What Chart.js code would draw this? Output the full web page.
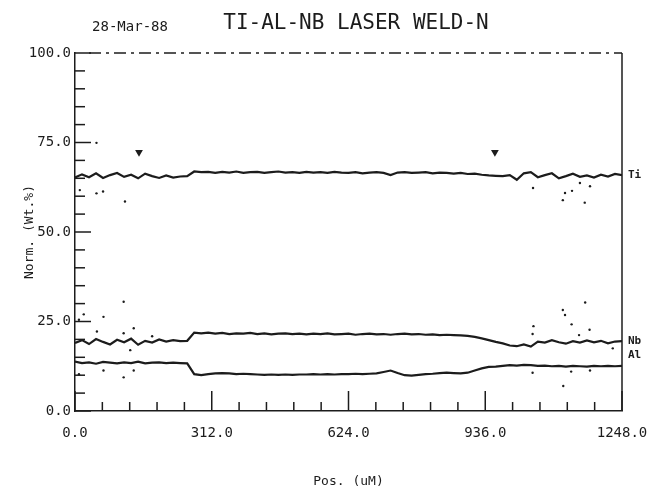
<!DOCTYPE html>
<html>
<head>
<meta charset="utf-8">
<script src="https://cdn.jsdelivr.net/npm/chart.js@4.4.1/dist/chart.umd.min.js"></script>
<style>
    html, body { margin: 0; background: #ffffff; }
    #caixa { width: 647px; height: 491px; }
</style>
</head>
<body>
<div id="caixa"><canvas id="perfil"></canvas></div>
<script>
// posicoes ao longo da linha (uM)
const posicoes = [0, 16, 32, 48, 64, 80, 96, 112, 128, 144, 160, 176, 192, 208, 224, 240, 256, 272, 288, 304,
    320, 336, 352, 368, 384, 400, 416, 432, 448, 464, 480, 496, 512, 528, 544, 560, 576, 592, 608, 624,
    640, 656, 672, 688, 704, 720, 736, 752, 768, 784, 800, 816, 832, 848, 864, 880, 896, 912, 928, 944,
    960, 976, 992, 1008, 1024, 1040, 1056, 1072, 1088, 1104, 1120, 1136, 1152, 1168, 1184, 1200, 1216, 1232, 1248];

const ti = [65.2, 66.1, 65.3, 66.4, 65.1, 65.9, 66.5, 65.4, 66.0, 65.0,
    66.3, 65.6, 65.1, 65.8, 65.2, 65.5, 65.6, 66.9, 66.7, 66.8,
    66.5, 66.8, 66.6, 66.9, 66.5, 66.7, 66.8, 66.5, 66.7, 66.9,
    66.6, 66.7, 66.5, 66.8, 66.6, 66.7, 66.5, 66.8, 66.6, 66.5,
    66.7, 66.4, 66.6, 66.7, 66.5, 65.9, 66.6, 66.7, 66.5, 66.6,
    66.7, 66.4, 66.6, 66.5, 66.3, 66.5, 66.2, 66.3, 66.0, 65.8,
    65.7, 65.6, 65.9, 64.6, 66.4, 66.7, 65.3, 65.9, 66.4, 65.0,
    65.6, 66.3, 65.4, 65.8, 65.2, 66.0, 65.5, 66.2, 65.9];

const nb = [19.0, 19.8, 18.7, 20.1, 19.3, 18.6, 19.9, 19.2, 20.2, 18.5,
    19.6, 19.1, 20.0, 19.4, 19.8, 19.5, 19.6, 21.9, 21.7, 21.9,
    21.6, 21.8, 21.5, 21.7, 21.6, 21.8, 21.5, 21.7, 21.4, 21.6,
    21.7, 21.5, 21.6, 21.4, 21.6, 21.5, 21.7, 21.4, 21.5, 21.6,
    21.3, 21.5, 21.6, 21.4, 21.5, 21.3, 21.5, 21.6, 21.4, 21.5,
    21.3, 21.4, 21.2, 21.3, 21.2, 21.1, 21.0, 20.7, 20.3, 19.8,
    19.3, 18.9, 18.3, 18.1, 18.6, 18.0, 19.4, 19.1, 19.8, 19.2,
    18.8, 19.5, 19.1, 19.7, 19.2, 19.6, 18.9, 19.4, 19.5];

const al = [13.8, 13.4, 13.6, 13.2, 13.7, 13.5, 13.3, 13.6, 13.4, 13.8,
    13.3, 13.5, 13.6, 13.4, 13.5, 13.4, 13.3, 10.3, 10.0, 10.3,
    10.5, 10.6, 10.5, 10.3, 10.4, 10.3, 10.2, 10.1, 10.2, 10.1,
    10.2, 10.1, 10.2, 10.2, 10.3, 10.2, 10.3, 10.2, 10.3, 10.3,
    10.4, 10.3, 10.4, 10.5, 10.9, 11.3, 10.6, 10.0, 9.9, 10.1,
    10.3, 10.4, 10.6, 10.7, 10.6, 10.5, 10.7, 11.3, 11.9, 12.3,
    12.4, 12.6, 12.8, 12.7, 12.9, 12.8, 12.6, 12.7, 12.5, 12.6,
    12.4, 12.6, 12.5, 12.4, 12.6, 12.5, 12.6, 12.5, 12.6];

// pontos soltos
const soltosX = [49, 11, 49, 64, 114, 9, 65, 111, 134, 50, 111, 176, 126, 20, 9, 65, 111, 134,
    1045, 1118, 1134, 1113, 1163, 1152, 1175, 1113, 1118, 1164, 1046, 1133, 1174, 1044, 1150, 1227,
    1044, 1114, 1132, 1175];
const soltosY = [74.9, 61.7, 60.8, 61.3, 58.5, 25.5, 26.3, 30.5, 23.1, 22.2, 21.7, 20.9, 17.0, 27.0, 10.3, 11.3, 9.4, 11.3,
    62.3, 60.9, 61.5, 58.9, 58.2, 63.7, 62.8, 28.2, 26.8, 30.3, 23.7, 24.2, 22.7, 21.5, 21.2, 17.5,
    10.7, 7.0, 11.0, 11.3];

// marcadores de inicio/fim da solda
const marcasX = [146, 958];
const marcasY = [72.3, 72.3];

const nomes = ['Ti', 'Nb', 'Al'];
const data = '28-Mar-88';
const titulo = 'TI-AL-NB LASER WELD-N';

const TINTA = '#1c1c1c';
const FONTE = '"DejaVu Sans Mono", monospace';

function pares(xs, ys) {
    return xs.map((v, i) => ({ x: v, y: ys[i] }));
}

function ehMultiplo(v, passo) {
    const r = v / passo;
    return Math.abs(r - Math.round(r)) < 1e-6;
}

const moldura = {
    id: 'moldura',
    afterDraw(chart) {
        const { ctx, chartArea: a, scales: { x, y } } = chart;
        ctx.save();
        ctx.strokeStyle = TINTA;
        ctx.lineWidth = 1.5;

        const linha = (x1, y1, x2, y2) => {
            ctx.beginPath();
            ctx.moveTo(x1, y1);
            ctx.lineTo(x2, y2);
            ctx.stroke();
        };

        linha(a.right, a.top, a.right, a.bottom);
        ctx.setLineDash([12, 5, 3, 5]);
        linha(a.left + 14, a.top, a.right, a.top);
        ctx.setLineDash([]);

        x.ticks.forEach(t => {
            const px = x.getPixelForValue(t.value);
            linha(px, a.bottom, px, a.bottom - (ehMultiplo(t.value, 312) ? 20 : 9));
        });
        y.ticks.forEach(t => {
            const py = y.getPixelForValue(t.value);
            linha(a.left, py, a.left + (ehMultiplo(t.value, 25) ? 16 : 10), py);
        });

        ctx.fillStyle = TINTA;
        ctx.textBaseline = 'middle';
        ctx.textAlign = 'center';
        ctx.font = '14px ' + FONTE;
        ctx.fillText(data, 130, 27);
        ctx.font = '21px ' + FONTE;
        ctx.fillText(titulo, 356, 24);

        ctx.textAlign = 'left';
        ctx.font = 'bold 11px ' + FONTE;
        ctx.fillText(nomes[0], a.right + 6, y.getPixelForValue(ti[ti.length - 1]));
        ctx.fillText(nomes[1], a.right + 6, y.getPixelForValue(nb[nb.length - 1]));
        ctx.fillText(nomes[2], a.right + 6, y.getPixelForValue(nb[nb.length - 1]) + 14);
        ctx.restore();
    }
};

function tracado(label, valores) {
    return {
        label: label,
        data: pares(posicoes, valores),
        borderColor: TINTA,
        borderWidth: 2.2,
        pointRadius: 0,
        tension: 0,
        showLine: true
    };
}

new Chart(document.getElementById('perfil'), {
    type: 'scatter',
    data: {
        datasets: [
            tracado(nomes[0], ti),
            tracado(nomes[1], nb),
            tracado(nomes[2], al),
            {
                label: 'soltos',
                data: pares(soltosX, soltosY),
                backgroundColor: TINTA,
                borderWidth: 0,
                pointRadius: 1.2
            },
            {
                label: 'marcas',
                data: pares(marcasX, marcasY),
                pointStyle: 'triangle',
                rotation: 180,
                pointRadius: 4.5,
                backgroundColor: TINTA,
                borderColor: TINTA,
                borderWidth: 0
            }
        ]
    },
    options: {
        responsive: true,
        maintainAspectRatio: false,
        animation: false,
        layout: {
            padding: { top: 53, right: 25, left: 0, bottom: 0 }
        },
        plugins: {
            legend: { display: false },
            tooltip: { enabled: false }
        },
        scales: {
            x: {
                type: 'linear',
                min: 0,
                max: 1248,
                grid: { display: false, drawTicks: false },
                border: { display: true, color: TINTA, width: 1.5 },
                ticks: {
                    stepSize: 62.4,
                    autoSkip: false,
                    maxRotation: 0,
                    padding: 14,
                    color: TINTA,
                    font: { family: FONTE, size: 14 },
                    callback: (v) => ehMultiplo(v, 312) ? v.toFixed(1) : ''
                },
                title: {
                    display: true,
                    text: 'Pos. (uM)',
                    color: TINTA,
                    font: { family: FONTE, size: 13 },
                    padding: { top: 26, bottom: 2 }
                },
                afterFit: (escala) => {
                    escala.height = 80;
                    escala.paddingLeft = 0;
                    escala.paddingRight = 0;
                }
            },
            y: {
                min: 0,
                max: 100,
                grid: { display: false, drawTicks: false },
                border: { display: true, color: TINTA, width: 1.5 },
                ticks: {
                    stepSize: 5,
                    autoSkip: false,
                    padding: 4,
                    color: TINTA,
                    font: { family: FONTE, size: 14 },
                    callback: (v) => ehMultiplo(v, 25) ? v.toFixed(1) : ''
                },
                title: {
                    display: true,
                    text: 'Norm. (Wt.%)',
                    color: TINTA,
                    font: { family: FONTE, size: 13 },
                    padding: { top: 22, bottom: 8 }
                },
                afterFit: (escala) => {
                    escala.width = 75;
                    escala.paddingTop = 0;
                    escala.paddingBottom = 0;
                }
            }
        }
    },
    plugins: [moldura]
});
</script>
</body>
</html>
